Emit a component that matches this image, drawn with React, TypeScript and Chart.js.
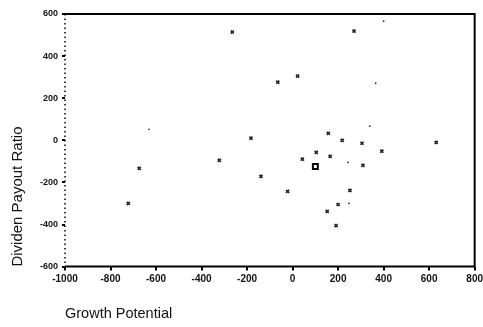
import React, { useEffect, useRef } from "react";
import { Chart, registerables } from "chart.js";

Chart.register(...registerables);

// Main scatter marks
const growthPotential = [-265, 270, 22, -65, -183, 157, 218, 305, 631, 104, 43, -322, 165, 392, 309, -139, -22, 252, 200, 152, 191, -674, -722];
const payoutRatio = [514, 519, 305, 276, 10, 33, 0, -14, -10, -57, -90, -95, -76, -52, -119, -171, -243, -238, -305, -338, -405, -133, -300];

// Faint dot marks
const dotGrowth = [400, 365, -631, 339, 244, 248];
const dotPayout = [566, 271, 52, 67, -105, -300];

// Highlighted (square) observation
const squareGrowth = [100];
const squarePayout = [-124];

const xTicks = [-1000, -800, -600, -400, -200, 0, 200, 400, 600, 800];
const yTicks = [600, 400, 200, 0, -200, -400, -600];

const xTitle = "Growth Potential";
const yTitle = "Dividen Payout Ratio";

const frame = {
  id: "frame",
  afterDatasetsDraw(chart: any) {
    const { ctx, chartArea: a } = chart;
    ctx.save();
    ctx.strokeStyle = "#000";
    ctx.lineWidth = 2;
    ctx.beginPath();
    ctx.moveTo(a.left, a.top);
    ctx.lineTo(a.right, a.top);
    ctx.lineTo(a.right, a.bottom);
    ctx.lineTo(a.left, a.bottom);
    ctx.stroke();
    ctx.lineWidth = 1.5;
    ctx.setLineDash([1.5, 3]);
    ctx.beginPath();
    ctx.moveTo(a.left, a.top);
    ctx.lineTo(a.left, a.bottom);
    ctx.stroke();
    ctx.restore();
  },
};

export default function App() {
  const ref = useRef<HTMLCanvasElement>(null);
  useEffect(() => {
    const toPts = (xs: number[], ys: number[]) => xs.map((x, i) => ({ x, y: ys[i] }));
    const chart = new Chart(ref.current!, {
      type: "scatter",
      data: {
        datasets: [
          {
            data: toPts(growthPotential, payoutRatio),
            pointStyle: "crossRot",
            pointRadius: 2.2,
            borderWidth: 1.6,
            borderColor: "#222",
            backgroundColor: "#222",
          },
          {
            data: toPts(dotGrowth, dotPayout),
            pointStyle: "circle",
            pointRadius: 0.9,
            borderWidth: 0,
            backgroundColor: "#333",
          },
          {
            data: toPts(squareGrowth, squarePayout),
            pointStyle: "rect",
            pointRadius: 3.5,
            borderWidth: 2,
            borderColor: "#000",
            backgroundColor: "#fff",
          },
        ],
      },
      options: {
        animation: false,
        responsive: false,
        maintainAspectRatio: false,
        layout: { padding: { top: 14, right: 0, bottom: 4, left: 9 } },
        plugins: { legend: { display: false }, tooltip: { enabled: false } },
        scales: {
          x: {
            type: "linear",
            min: -1000,
            max: 800,
            afterBuildTicks: (s: any) => { s.ticks = xTicks.map((v) => ({ value: v })); },
            grid: { drawOnChartArea: false, drawTicks: true, tickLength: 4, color: "#000", lineWidth: 2 },
            border: { display: false },
            ticks: {
              color: "#111",
              font: { family: "Liberation Sans", size: 10, weight: "bold" },
              padding: 3,
              maxRotation: 0,
              callback: (v: any) => String(v),
            },
            title: {
              display: true,
              text: xTitle,
              align: "start",
              color: "#111",
              font: { family: "Liberation Sans", size: 14.5 },
              padding: { top: 17, bottom: 0 },
            },
          },
          y: {
            type: "linear",
            min: -600,
            max: 600,
            afterBuildTicks: (s: any) => { s.ticks = yTicks.map((v) => ({ value: v })); },
            grid: { drawOnChartArea: false, drawTicks: true, tickLength: 3, color: "#000", lineWidth: 2 },
            border: { display: false },
            ticks: {
              color: "#111",
              font: { family: "Liberation Sans", size: 9, weight: "bold" },
              padding: 4,
              callback: (v: any) => String(v),
            },
            title: {
              display: true,
              text: yTitle,
              align: "start",
              color: "#111",
              font: { family: "Liberation Sans", size: 15 },
              padding: { top: 0, bottom: 9 },
            },
          },
        },
      },
      plugins: [frame],
    });
    return () => chart.destroy();
  }, []);
  return (
    <div style={{ position: "fixed", left: 0, top: 0, width: 483, height: 327, overflow: "hidden", background: "#fff" }}>
      <canvas ref={ref} width={486} height={327} style={{ width: 486, height: 327 }} />
    </div>
  );
}
